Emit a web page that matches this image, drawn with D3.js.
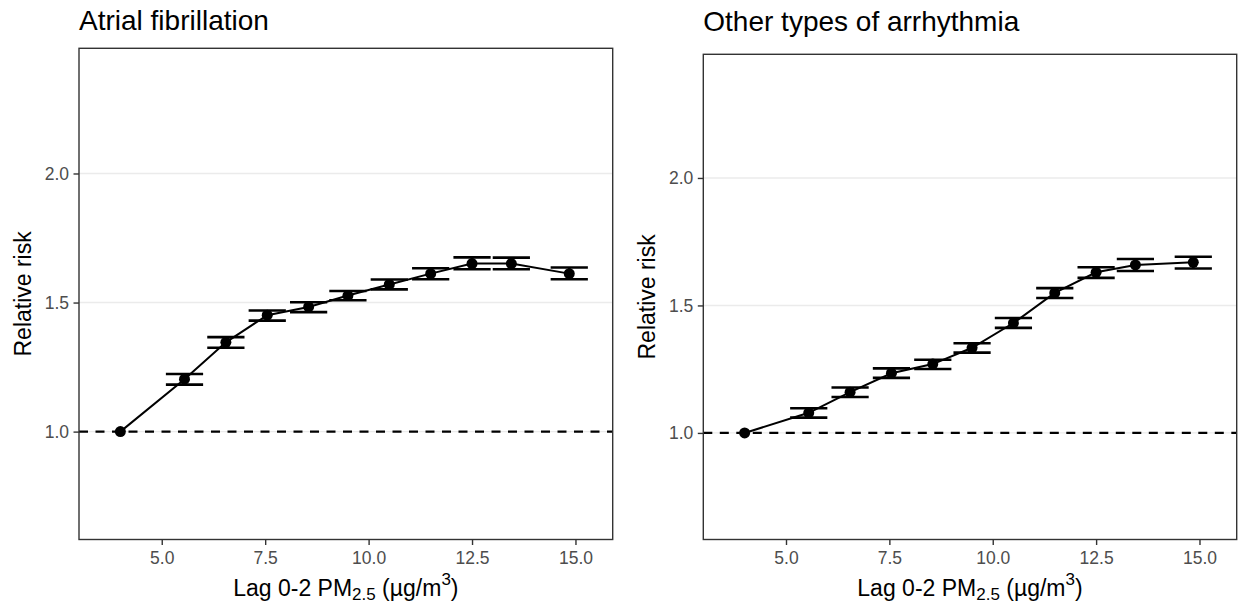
<!DOCTYPE html>
<html>
<head>
<meta charset="utf-8">
<script src="https://cdn.jsdelivr.net/npm/d3@7"></script>
<style>
  body { margin: 0; background: #fff; }
  svg { display: block; font-family: "Liberation Sans", Arial, sans-serif; }
  .tick text { font-size: 17.5px; fill: #4d4d4d; }
</style>
</head>
<body>
<div id="chart"></div>
<script>
// exposure levels (midpoints of the PM2.5 groups)
var pmLevels = [4.0, 5.55, 6.55, 7.55, 8.55, 9.5, 10.5, 11.5, 12.5, 13.45, 14.85];

// Atrial fibrillation
var afRR    = [1.0, 1.203, 1.346, 1.451, 1.483, 1.527, 1.570, 1.612, 1.651, 1.651, 1.612];
var afLower = [1.0, 1.182, 1.325, 1.430, 1.463, 1.509, 1.551, 1.590, 1.629, 1.629, 1.590];
var afUpper = [1.0, 1.223, 1.366, 1.469, 1.501, 1.545, 1.589, 1.633, 1.675, 1.674, 1.636];

// Other types of arrhythmia
var otRR    = [1.0, 1.079, 1.160, 1.234, 1.270, 1.334, 1.431, 1.549, 1.630, 1.659, 1.669];
var otLower = [1.0, 1.060, 1.141, 1.216, 1.251, 1.315, 1.412, 1.529, 1.608, 1.635, 1.645];
var otUpper = [1.0, 1.097, 1.178, 1.253, 1.287, 1.352, 1.451, 1.568, 1.650, 1.682, 1.691];

var xTicks = [5, 7.5, 10, 12.5, 15];
var yTicks = [1.0, 1.5, 2.0];
var titles = ["Atrial fibrillation", "Other types of arrhythmia"];

var svgWidth = 1238;
var svgHeight = 611;

var svg = d3.select("#chart")
  .append("svg")
  .attr("width", svgWidth)
  .attr("height", svgHeight);

function drawPanel(p) {
  var data = pmLevels.map(function (x, i) {
    return { x: x, rr: p.rr[i], lo: p.lo[i], hi: p.hi[i] };
  });

  var x = d3.scaleLinear().domain([3.0, 15.9]).range([p.left, p.right]);
  var y = d3.scaleLinear().domain([0.582, 2.485]).range([p.bottom, p.top]);

  var g = svg.append("g");

  // horizontal grid
  g.selectAll(".grid")
    .data(yTicks)
    .enter()
    .append("line")
    .attr("x1", p.left).attr("x2", p.right)
    .attr("y1", d => y(d)).attr("y2", d => y(d))
    .attr("stroke", "#ebebeb")
    .attr("stroke-width", 1.4);

  // reference line at RR = 1
  g.append("line")
    .attr("x1", p.left).attr("x2", p.right)
    .attr("y1", y(1)).attr("y2", y(1))
    .attr("stroke", "#000")
    .attr("stroke-width", 2.2)
    .attr("stroke-dasharray", "9,7.5");

  // connecting line
  g.append("path")
    .datum(data)
    .attr("fill", "none")
    .attr("stroke", "#000")
    .attr("stroke-width", 2)
    .attr("d", d3.line().x(d => x(d.x)).y(d => y(d.rr)));

  // error bars (first point is the reference, no interval)
  var eb = g.selectAll(".eb")
    .data(data.slice(1))
    .enter()
    .append("g")
    .attr("stroke", "#000")
    .attr("stroke-width", 2.6);
  eb.append("line")
    .attr("x1", d => x(d.x)).attr("x2", d => x(d.x))
    .attr("y1", d => y(d.lo)).attr("y2", d => y(d.hi));
  eb.append("line")
    .attr("x1", d => x(d.x - 0.45)).attr("x2", d => x(d.x + 0.45))
    .attr("y1", d => y(d.lo)).attr("y2", d => y(d.lo));
  eb.append("line")
    .attr("x1", d => x(d.x - 0.45)).attr("x2", d => x(d.x + 0.45))
    .attr("y1", d => y(d.hi)).attr("y2", d => y(d.hi));

  // points
  g.selectAll(".pt")
    .data(data)
    .enter()
    .append("circle")
    .attr("cx", d => x(d.x))
    .attr("cy", d => y(d.rr))
    .attr("r", 5.5)
    .attr("fill", "#000");

  // panel border
  g.append("rect")
    .attr("x", p.left).attr("y", p.top)
    .attr("width", p.right - p.left)
    .attr("height", p.bottom - p.top)
    .attr("fill", "none")
    .attr("stroke", "#333")
    .attr("stroke-width", 1.4);

  // axes
  var bottomAxis = d3.axisBottom(x).tickValues(xTicks)
    .tickFormat(d3.format(".1f")).tickSize(5.5).tickPadding(7);
  var leftAxis = d3.axisLeft(y).tickValues(yTicks)
    .tickFormat(d3.format(".1f")).tickSize(5.5).tickPadding(4.5);

  var xa = g.append("g")
    .attr("transform", `translate(0, ${p.bottom})`)
    .call(bottomAxis);
  var ya = g.append("g")
    .attr("transform", `translate(${p.left}, 0)`)
    .call(leftAxis);

  [xa, ya].forEach(function (a) {
    a.attr("font-size", 17.5).attr("font-family", "Liberation Sans, Arial, sans-serif");
    a.select(".domain").remove();
    a.selectAll(".tick line").attr("stroke", "#333").attr("stroke-width", 1.4);
    a.selectAll(".tick text").attr("fill", "#4d4d4d");
  });

  // title
  g.append("text")
    .attr("x", p.left)
    .attr("y", p.titleY)
    .style("font-size", "28px")
    .attr("fill", "#000")
    .text(p.title);

  // x axis label with sub/superscript
  var xl = g.append("text")
    .attr("x", (p.left + p.right) / 2)
    .attr("y", 596)
    .attr("text-anchor", "middle")
    .style("font-size", "23px")
    .attr("fill", "#000");
  xl.append("tspan").text("Lag 0-2 PM");
  xl.append("tspan").attr("dy", 4).style("font-size", "17px").text("2.5");
  xl.append("tspan").attr("dy", -4).text(" (\u00b5g/m");
  xl.append("tspan").attr("dy", -11).style("font-size", "17px").text("3");
  xl.append("tspan").attr("dy", 11).text(")");

  // y axis label
  g.append("text")
    .attr("transform", `translate(${p.left - 48}, ${(p.top + p.bottom) / 2}) rotate(-90)`)
    .attr("text-anchor", "middle")
    .style("font-size", "23px")
    .attr("fill", "#000")
    .text("Relative risk");
}

drawPanel({ title: titles[0], rr: afRR, lo: afLower, hi: afUpper,
  left: 79, right: 612.7, top: 48.3, bottom: 539.5, titleY: 30 });
drawPanel({ title: titles[1], rr: otRR, lo: otLower, hi: otUpper,
  left: 703.3, right: 1236.7, top: 54.3, bottom: 539.5, titleY: 31 });
</script>
</body>
</html>
